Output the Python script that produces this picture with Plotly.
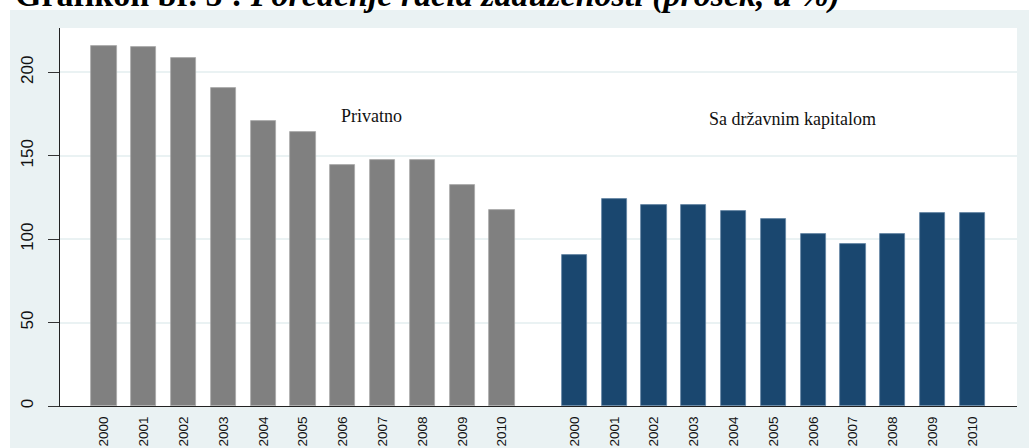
import plotly.graph_objects as go

# ---- data ----
years = ["2000", "2001", "2002", "2003", "2004", "2005", "2006", "2007", "2008", "2009", "2010"]
privatno = [216.0, 215.0, 208.5, 190.5, 171.0, 164.4, 144.3, 147.3, 147.3, 132.5, 117.7]
drzavni = [90.7, 124.1, 120.7, 120.7, 116.7, 112.3, 103.3, 97.3, 103.3, 115.5, 115.5]
group_labels = ["Privatno", "Sa državnim kapitalom"]
title_bold = "Grafikon br. 5 :"
title_italic = "Poređenje racia zaduženosti (prosek, u %)"
y_ticks = [0, 50, 100, 150, 200]

# ---- layout constants ----
W, H = 1029, 448
ML, MR, MT, MB = 60, 12, 28, 42
PW, PH = W - ML - MR, H - MT - MB
GROUP_OFFSET = 11.82
BAR_W = 0.63
BG = "#eaf2f3"
GRAY = "#808080"
NAVY = "#1a476f"

x_priv = list(range(len(years)))
x_drz = [i + GROUP_OFFSET for i in range(len(years))]

fig = go.Figure()
fig.add_trace(go.Bar(x=x_priv, y=privatno, width=BAR_W,
                     marker=dict(color=GRAY, line=dict(color="#a8a8a8", width=0.8)),
                     showlegend=False, hoverinfo="y"))
fig.add_trace(go.Bar(x=x_drz, y=drzavni, width=BAR_W,
                     marker=dict(color=NAVY, line=dict(color="#6283a3", width=0.8)),
                     showlegend=False, hoverinfo="y"))

tick_font = dict(family="Liberation Sans, Arial, sans-serif", color="#111111")

fig.update_xaxes(range=[-1.105, 22.94], tickvals=x_priv + x_drz, ticktext=years + years,
                 tickangle=-90, ticks="", showgrid=False, zeroline=False,
                 showline=True, linecolor="#222222", linewidth=1.2,
                 tickfont=dict(size=13.5, **tick_font), ticklabelstandoff=4)
fig.update_yaxes(range=[0, 226.6], tickvals=y_ticks, ticktext=[str(v) for v in y_ticks],
                 tickangle=-90, ticks="outside", ticklen=11, tickcolor="#333333", tickwidth=1,
                 showgrid=True, gridcolor=BG, gridwidth=1.5, zeroline=False,
                 showline=True, linecolor="#222222", linewidth=1.2,
                 tickfont=dict(size=17, **tick_font), ticklabelstandoff=8)

serif = "Liberation Serif, Times New Roman, serif"
fig.add_annotation(x=6.71, y=173.9, xref="x", yref="y", text=group_labels[0], showarrow=False,
                   font=dict(family=serif, size=18, color="#111111"))
fig.add_annotation(x=17.29, y=172.0, xref="x", yref="y", text=group_labels[1], showarrow=False,
                   font=dict(family=serif, size=18, color="#111111"))

# title (partially cut off at top of page)
fig.add_annotation(x=(13 - ML) / PW, y=1 + 12 / PH, xref="paper", yref="paper",
                   xanchor="left", yanchor="bottom", showarrow=False,
                   text=f"<b>{title_bold} <i>{title_italic}</i></b>",
                   font=dict(family=serif, size=34, color="#000000"))

# white page strips around the grey graph region
fig.add_shape(type="rect", xref="paper", yref="paper", layer="below",
              x0=-ML / PW - 0.01, x1=1 + MR / PW + 0.01, y0=1 + (MT - 10) / PH, y1=1 + MT / PH + 0.01,
              fillcolor="white", line=dict(width=0))
fig.add_shape(type="rect", xref="paper", yref="paper", layer="below",
              x0=-ML / PW - 0.01, x1=-(ML - 10) / PW, y0=-MB / PH - 0.01, y1=1 + MT / PH + 0.01,
              fillcolor="white", line=dict(width=0))

fig.update_layout(width=W, height=H, margin=dict(l=ML, r=MR, t=MT, b=MB, autoexpand=False),
                  paper_bgcolor=BG, plot_bgcolor="white", bargap=0, barmode="overlay")

fig.write_html("out.html", config={"displayModeBar": False},
               post_script="document.body.style.margin='0';document.body.style.overflow='hidden';")
